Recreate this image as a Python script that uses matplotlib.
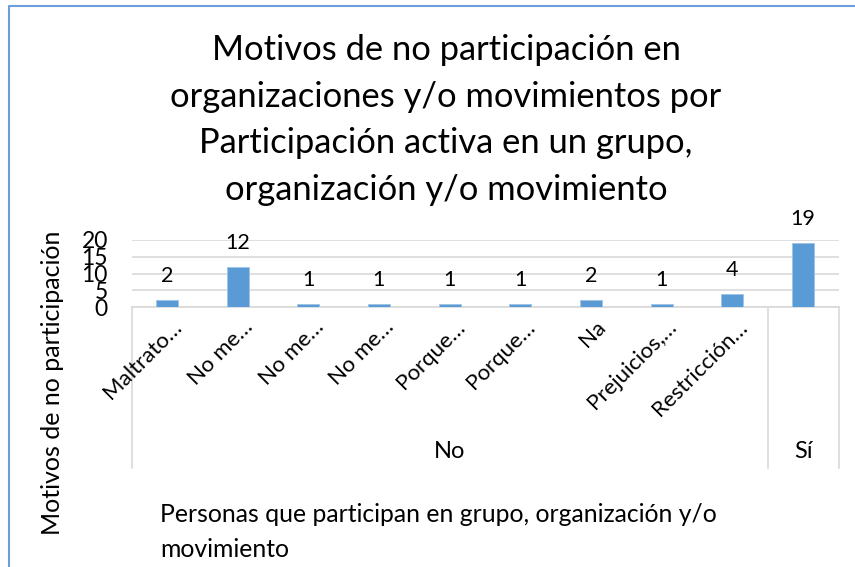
import matplotlib
matplotlib.use("Agg")
import matplotlib.pyplot as plt
from matplotlib.lines import Line2D
import matplotlib.transforms as mtransforms

plt.rcParams['font.family'] = ['Lato', 'DejaVu Sans']

title = ("Motivos de no participación en\norganizaciones y/o movimientos por\n"
         "Participación activa en un grupo,\norganización y/o movimiento")
categories = ["Maltrato…", "No me…", "No me…", "No me…", "Porque…", "Porque…",
              "Na", "Prejuicios,…", "Restricción…", ""]
groups = ["No", "Sí"]
group_sizes = [9, 1]
values = [2, 12, 1, 1, 1, 1, 2, 1, 4, 19]
yticks = [0, 5, 10, 15, 20]
ylabel = "Motivos de no participación"
xlabel = "Personas que participan en grupo, organización y/o\nmovimiento"

W, H = 855, 567
fig = plt.figure(figsize=(W / 100, H / 100), dpi=100)

# frame
fig.add_artist(Line2D([9 / W, 9 / W, 1.0], [0.0, 1 - 6 / H, 1 - 6 / H],
                      transform=fig.transFigure, color='#6A9FDB', lw=1.5))

x0, x1 = 131.5, 838.5
y0, y1 = 307, 240
ax = fig.add_axes([x0 / W, 1 - y0 / H, (x1 - x0) / W, (y0 - y1) / H])

xs = list(range(len(values)))
ax.bar(xs, values, width=0.31, color='#5B9BD5', edgecolor='#9DC3E6',
       linewidth=0.6, zorder=3)
for x, v in zip(xs, values):
    ax.annotate(str(v), (x, v), xytext=(0, 24), textcoords='offset pixels',
                ha='center', va='center', fontsize=15.5, color='#000000',
                annotation_clip=False)

ax.set_xlim(-0.5, len(values) - 0.5)
ax.set_ylim(0, 20)
ax.set_yticks(yticks)
ax.set_yticklabels([str(t) for t in yticks], fontsize=16.5)
ax.tick_params(axis='y', length=0, pad=17)
ax.grid(axis='y', color='#D9D9D9', lw=1.2, zorder=0)
for s in ['left', 'right', 'top']:
    ax.spines[s].set_visible(False)
ax.spines['bottom'].set_color('#D9D9D9')
ax.spines['bottom'].set_linewidth(1.2)

ax.set_xticks(xs)
ax.set_xticklabels([])
ax.tick_params(axis='x', length=0)
trans = mtransforms.blended_transform_factory(ax.transData, ax.transAxes)
for x, lab in zip(xs, categories):
    ax.annotate(lab, (x, 0), xytext=(12, -17), textcoords='offset pixels',
                xycoords=trans, ha='right', va='center', rotation=45,
                rotation_mode='anchor', fontsize=16, annotation_clip=False)

# group separators and labels
sep_bottom = -(468 - y0) / (y0 - y1)
start = -0.5
seps = [start]
for g, n in zip(groups, group_sizes):
    end = start + n
    seps.append(end)
    ax.text((start + end) / 2, -(452 - y0) / (y0 - y1), g, transform=trans,
            ha='center', va='center', fontsize=17)
    start = end
for sx in seps:
    ax.plot([sx, sx], [0, sep_bottom], transform=trans, color='#D9D9D9',
            lw=1.2, clip_on=False)

fig.text(52 / W, 1 - 383 / H, ylabel, rotation=90, ha='center', va='center',
         fontsize=18)
fig.text(160 / W, 1 - 503 / H, xlabel, ha='left', va='top', fontsize=17.8,
         linespacing=1.62)
fig.text(446 / W, 1 - 120 / H, title, ha='center', va='center', fontsize=24.8,
         linespacing=1.57)

fig.savefig("out.png", dpi=100)
